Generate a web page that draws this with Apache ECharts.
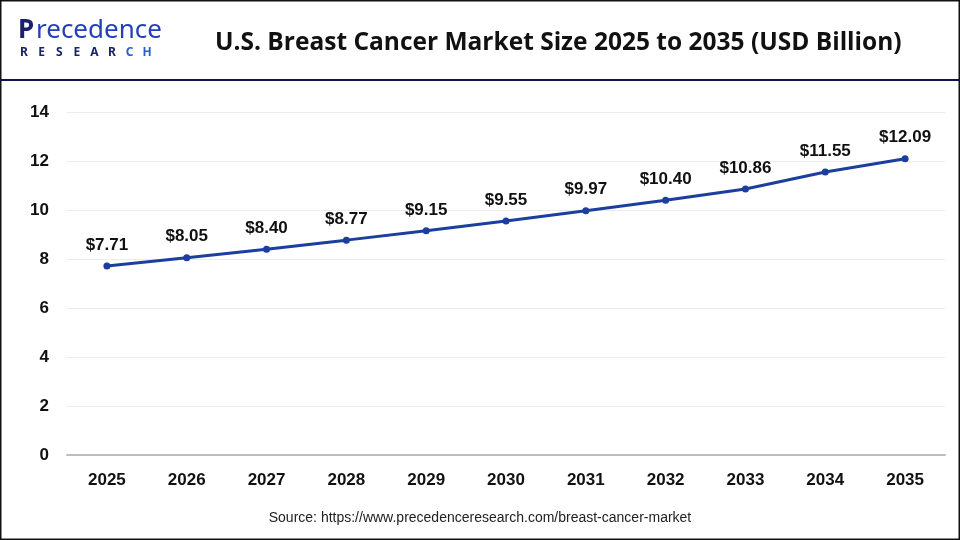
<!DOCTYPE html>
<html><head><meta charset="utf-8">
<script src="https://cdn.jsdelivr.net/npm/echarts@6/dist/echarts.min.js"></script>
<style>html,body{margin:0;padding:0;background:#fff}#c{width:960px;height:540px}</style>
</head><body><div id="c"></div>
<script>
const years = ['2025','2026','2027','2028','2029','2030','2031','2032','2033','2034','2035'];
const values = [7.71, 8.05, 8.40, 8.77, 9.15, 9.55, 9.97, 10.40, 10.86, 11.55, 12.09];
const yTicks = [0, 2, 4, 6, 8, 10, 12, 14];
const titleText = 'U.S. Breast Cancer Market Size 2025 to 2035 (USD Billion)';
const sourceText = 'Source: https://www.precedenceresearch.com/breast-cancer-market';
const logoSub = ['R','E','S','E','A','R','C','H'];

const FONT = '"Liberation Sans", Arial, sans-serif';
const chart = echarts.init(document.getElementById('c'));
const subLetters = logoSub.map((ch, i) => ({
  type: 'text', x: 24 + i * 17.6, y: 53, z: 100,
  style: { text: ch, fill: i < 6 ? '#1b2466' : '#2a5bd7', font: 'bold 12px "Noto Sans", sans-serif', align: 'center', verticalAlign: 'middle' }
}));
chart.setOption({
  animation: false,
  backgroundColor: '#fff',
  grid: { left: 67, right: 15, top: 112, bottom: 85 },
  xAxis: {
    type: 'category', data: years, boundaryGap: true,
    axisLine: { lineStyle: { color: '#bdbdbd', width: 2 } },
    axisTick: { show: false },
    axisLabel: { color: '#111', fontWeight: 'bold', fontSize: 17, fontFamily: FONT, margin: 17 }
  },
  yAxis: {
    type: 'value', min: yTicks[0], max: yTicks[yTicks.length-1], interval: 2,
    axisLine: { show: false }, axisTick: { show: false },
    splitLine: { lineStyle: { color: '#ececec', width: 1 } },
    axisLabel: { color: '#111', fontWeight: 'bold', fontSize: 17, fontFamily: FONT, margin: 18 }
  },
  series: [{
    type: 'line', data: values,
    symbol: 'circle', symbolSize: 7,
    lineStyle: { color: '#1c3f9e', width: 3 },
    itemStyle: { color: '#1c3f9e' },
    label: { show: true, position: 'top', distance: 9, color: '#111', fontWeight: 'bold', fontSize: 17, fontFamily: FONT,
      formatter: p => '$' + p.value.toFixed(2) }
  }],
  graphic: [
    { type: 'rect', shape: { x: 0.5, y: 0.5, width: 959, height: 539 }, style: { fill: 'none', stroke: '#111', lineWidth: 2 }, z: 100 },
    { type: 'rect', shape: { x: 0, y: 79, width: 960, height: 2 }, style: { fill: '#0e1446' }, z: 100 },
    { type: 'text', x: 18, y: 31, z: 100,
      style: { text: 'P', font: 'bold 26px "Noto Sans", sans-serif', verticalAlign: 'middle', fill: '#1a1f6e' } },
    { type: 'text', x: 36, y: 31, z: 100,
      style: { text: 'recedence', font: '26px "Noto Sans", sans-serif', verticalAlign: 'middle', fill: '#2440b8' } },
    ...subLetters,
    { type: 'text', x: 215, y: 43, z: 100, style: { text: titleText, fill: '#111', font: 'bold 24.5px "Open Sans", "Noto Sans", sans-serif', verticalAlign: 'middle' } },
    { type: 'text', x: 480, y: 518, z: 100, style: { text: sourceText, fill: '#222', font: '14px "Liberation Sans", Arial, sans-serif', align: 'center', verticalAlign: 'middle' } }
  ]
});
</script></body></html>
